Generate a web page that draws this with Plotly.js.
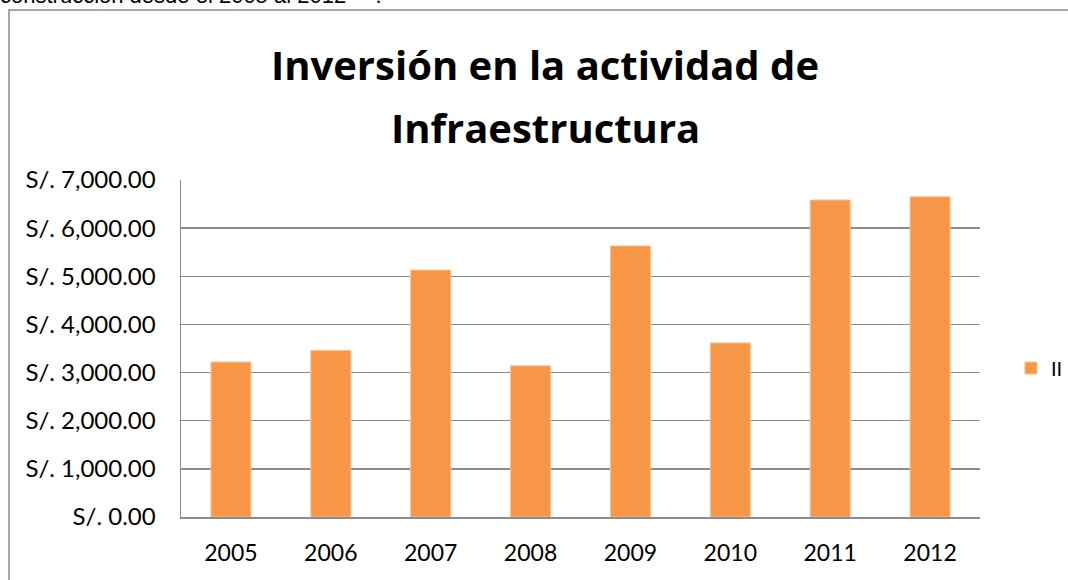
<!DOCTYPE html>
<html>
<head>
<meta charset="utf-8">
<script src="https://cdn.plot.ly/plotly-3.0.1.min.js"></script>
<style>html,body{margin:0;padding:0;background:#fff;}#chart{width:1068px;height:580px;}</style>
</head>
<body>
<div id="chart"></div>
<script>
const years = ["2005","2006","2007","2008","2009","2010","2011","2012"];
const inversion = [3220, 3460, 5130, 3140, 5630, 3615, 6585, 6650];
const seriesName = "II";
const titleLine1 = "Inversión en la actividad de";
const titleLine2 = "Infraestructura";
const captionText = "construcción desde el 2005 al 2012 <sup>14</sup> .";

const W = 1068, H = 580;
const m = {l: 181, r: 0, t: 180, b: 63};
const plotRight = 980;
const fullW = W - m.l - m.r, ph = H - m.t - m.b;
const px = x => (x - m.l) / fullW;
const py = y => (H - m.b - y) / ph;

const trace = {
  type: "bar",
  x: years,
  y: inversion,
  name: seriesName,
  marker: {color: "#F79646", line: {color: "#FAC090", width: 1}},
  showlegend: true
};

const titleFont = {family: "'Open Sans', Lato, sans-serif", size: 40, color: "#000", weight: "bold"};

const layout = {
  width: W, height: H,
  margin: m,
  paper_bgcolor: "#fff",
  plot_bgcolor: "#fff",
  bargap: 0.6,
  font: {family: "Lato, 'Open Sans', sans-serif", color: "#000"},
  title: {
    text: titleLine1,
    font: titleFont,
    x: 545 / W, xanchor: "center", xref: "container",
    y: 1 - 66 / H, yanchor: "middle", yref: "container"
  },
  xaxis: {
    type: "category",
    domain: [0, px(plotRight)],
    showgrid: false,
    showline: true, linecolor: "#8c8c8c", linewidth: 1.5,
    ticks: "", tickfont: {size: 23, family: "Lato, sans-serif"},
    ticklabelstandoff: 15
  },
  yaxis: {
    range: [0, 7000],
    dtick: 1000,
    tickprefix: "S/. ",
    tickformat: ",.2f",
    showgrid: true, gridcolor: "#8c8c8c", gridwidth: 1.5,
    showline: true, linecolor: "#8c8c8c", linewidth: 1.5,
    zeroline: false,
    ticks: "", tickfont: {size: 24, family: "Lato, sans-serif"},
    ticklabelstandoff: 19
  },
  legend: {
    x: 1, xanchor: "right",
    y: py(368), yanchor: "middle",
    font: {size: 20, family: "Lato, sans-serif"},
    itemwidth: 30,
    bgcolor: "rgba(0,0,0,0)"
  },
  shapes: [{
    type: "rect", xref: "paper", yref: "paper",
    x0: px(9), x1: px(1080), y0: py(600), y1: py(10),
    line: {color: "#8c8c8c", width: 1.5}, fillcolor: "rgba(0,0,0,0)", layer: "below"
  }],
  annotations: [{
    text: titleLine2, showarrow: false,
    xref: "paper", yref: "paper",
    x: px(545), xanchor: "center",
    y: py(127), yanchor: "middle",
    font: titleFont
  }, {
    text: captionText, showarrow: false,
    xref: "paper", yref: "paper",
    x: px(-2), xanchor: "left",
    y: py(10), yanchor: "bottom",
    font: {family: "'Liberation Sans', Arial, sans-serif", size: 22, color: "#000"}
  }]
};

Plotly.newPlot("chart", [trace], layout, {displayModeBar: false, staticPlot: true});
</script>
</body>
</html>
